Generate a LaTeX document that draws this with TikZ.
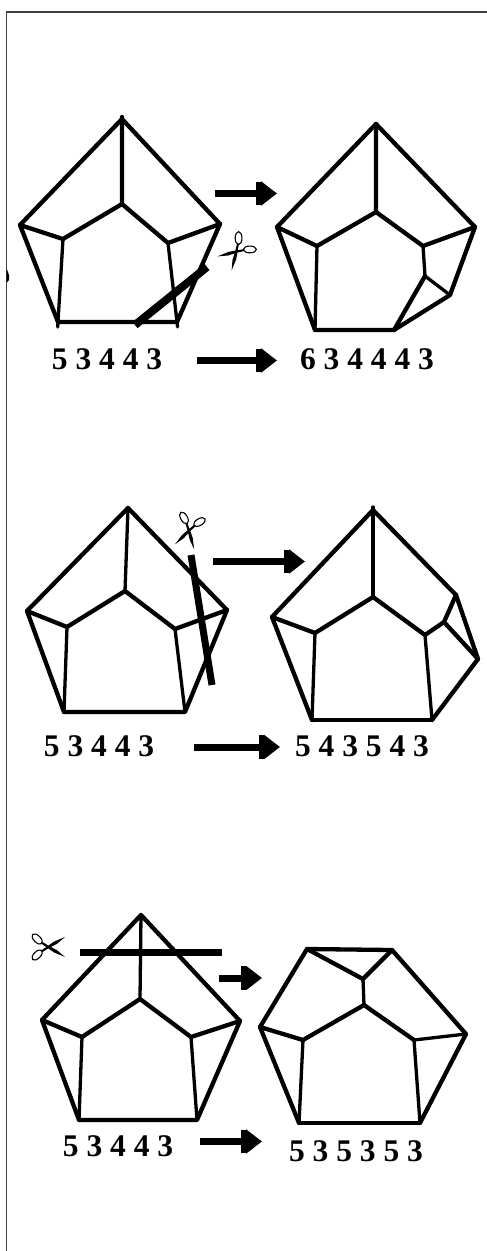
\documentclass[tikz,border=0pt]{standalone}
\usepackage{fontspec}
\setmainfont{Liberation Serif}
\usetikzlibrary{arrows.meta}
\tikzset{
    scissors/.pic={
        \fill (-5.2,-3.8) -- (-3.8,-5.2) -- (3,-1) -- (11,3.2) -- (19,10) -- (8,5.4) -- cycle;
        \fill (-5.2,3.8) -- (-3.8,5.2) -- (3,1) -- (11,-3.2) -- (19,-10) -- (8,-5.4) -- cycle;
        \draw[line width=1.1pt, shift={(-8.8,-8)}, rotate=-45] (0,0) ellipse [x radius=6.5, y radius=3.4];
        \draw[line width=1.1pt, shift={(-8.8,8)}, rotate=45] (0,0) ellipse [x radius=6.5, y radius=3.4];
    }
}
\begin{document}
\begin{tikzpicture}[
    x=1pt, y=-1pt,
    every node/.style={font=\fontsize{31.5}{34}\selectfont\bfseries, inner sep=0pt},
    edge/.style={line width=4.3pt, line cap=round, line join=round},
    thinedge/.style={line width=3.3pt, line cap=round},
    cut/.style={line width=7pt},
    arr/.style={-{Rectangle[length=5pt,width=23.5pt]Triangle[length=16pt,width=23.5pt]}, line width=7pt},
    frame/.style={line width=1.1pt, black!75}
]
\useasboundingbox (0,0) rectangle (487,1251);
\coordinate (fa) at (6.5,1251);
\coordinate (fb) at (6.5,12);
\coordinate (fc) at (487,12);
\draw[frame] (fa) -- (fb) -- (fc);
\fill (6.5,268) -- (9,275) -- (9,280) -- (6.5,283) -- cycle;
% first row
\coordinate (atop) at (122,119);
\coordinate (aleft) at (20,225);
\coordinate (aright) at (220,224);
\coordinate (ain) at (122,204);
\coordinate (ail) at (63,239);
\coordinate (air) at (168,243);
\coordinate (abl) at (58,322);
\coordinate (abr) at (177,322);
\draw[edge] (abl) -- (aleft) -- (atop) -- (aright) -- (abr) -- (abl);
\draw[edge, shorten <=-2pt] (atop) -- (ain) -- (ail) -- (aleft);
\draw[edge] (ain) -- (air) -- (aright);
\draw[thinedge, shorten >=-5pt] (ail) -- (abl);
\draw[thinedge, shorten >=-5pt] (air) -- (abr);
\coordinate (acuta) at (135,325);
\coordinate (acutb) at (207,267);
\draw[cut, line width=8pt] (acuta) -- (acutb);
\pic[rotate=225] (acis) at (238,250) {scissors};
\coordinate (btop) at (376,124);
\coordinate (bleft) at (277,227);
\coordinate (bright) at (475,227);
\coordinate (bin) at (376,212);
\coordinate (bil) at (317,246);
\coordinate (bir) at (423,246);
\coordinate (bna) at (425,276);
\coordinate (bnb) at (450,295);
\coordinate (bbl) at (315,330);
\coordinate (bbr) at (394,330);
\draw[edge] (bbl) -- (bleft) -- (btop) -- (bright) -- (bnb) -- (bbr) -- (bbl);
\draw[edge] (btop) -- (bin) -- (bil) -- (bleft);
\draw[edge] (bin) -- (bir) -- (bright);
\draw[thinedge] (bil) -- (bbl);
\draw[thinedge] (bir) -- (bna) -- (bnb);
\draw[edge] (bna) -- (bbr);
\coordinate (aas) at (215,193.5);
\coordinate (aae) at (277,193.5);
\draw[arr] (aas) -- (aae);
\coordinate (abs) at (197,360.5);
\coordinate (abe) at (277,360.5);
\draw[arr] (abs) -- (abe);
\node (alab) at (107,359) {5 3 4 4 3};
\node (blab) at (367,359) {6 3 4 4 4 3};
% second row
\coordinate (ctop) at (128,508);
\coordinate (cleft) at (27,611);
\coordinate (cright) at (227,610);
\coordinate (cin) at (125,591);
\coordinate (cil) at (67,627);
\coordinate (cir) at (175,629);
\coordinate (cbl) at (64,712);
\coordinate (cbr) at (185,712);
\draw[edge] (cbl) -- (cleft) -- (ctop) -- (cright) -- (cbr) -- (cbl);
\draw[edge] (cleft) -- (cil) -- (cin) -- (cir) -- (cright);
\draw[thinedge] (ctop) -- (cin);
\draw[thinedge] (cil) -- (cbl);
\draw[thinedge] (cir) -- (cbr);
\coordinate (ccuta) at (191,555);
\coordinate (ccutb) at (212,685);
\draw[cut] (ccuta) -- (ccutb);
\pic[rotate=-105] (ccis) at (189.5,528.5) {scissors};
\coordinate (dtop) at (373,510);
\coordinate (dleft) at (272,617);
\coordinate (din) at (373,597);
\coordinate (dil) at (315,633);
\coordinate (dir) at (425,635);
\coordinate (dna) at (444,622);
\coordinate (dnb) at (456,595);
\coordinate (dnc) at (478,659);
\coordinate (dbl) at (312,720);
\coordinate (dbr) at (432,720);
\draw[edge] (dbl) -- (dleft) -- (dtop) -- (dnb) -- (dnc) -- (dbr);
\draw[thinedge] (dbl) -- (dbr);
\draw[edge] (dleft) -- (dil) -- (din) -- (dir) -- (dna) -- (dnb);
\draw[edge] (dna) -- (dnc);
\draw[thinedge, shorten <=-3pt] (dtop) -- (din);
\draw[thinedge] (dil) -- (dbl);
\draw[thinedge] (dir) -- (dbr);
\coordinate (cas) at (213,561.5);
\coordinate (cae) at (305,561.5);
\draw[arr] (cas) -- (cae);
\coordinate (cbs) at (194,747);
\coordinate (cbe) at (280,747);
\draw[arr] (cbs) -- (cbe);
\node (clab) at (99,746) {5 3 4 4 3};
\node (dlab) at (362,746) {5 4 3 5 4 3};
% third row
\coordinate (etop) at (141,915);
\coordinate (eleft) at (42,1020);
\coordinate (eright) at (240,1021);
\coordinate (ein) at (140,999);
\coordinate (eil) at (82,1037);
\coordinate (eir) at (191,1037);
\coordinate (ebl) at (79,1120);
\coordinate (ebr) at (197,1120);
\draw[edge] (ebl) -- (eleft) -- (etop) -- (eright) -- (ebr) -- (ebl);
\draw[edge] (eleft) -- (eil) -- (ein) -- (eir) -- (eright);
\draw[thinedge] (etop) -- (ein);
\draw[thinedge] (eil) -- (ebl);
\draw[thinedge] (eir) -- (ebr);
\coordinate (ecuta) at (80,952);
\coordinate (ecutb) at (222,952);
\draw[cut] (ecuta) -- (ecutb);
\pic (ecis) at (46,947) {scissors};
\coordinate (ftl) at (307,949);
\coordinate (ftr) at (392,950);
\coordinate (fm) at (363,979);
\coordinate (fin) at (364,1005);
\coordinate (fleft) at (260,1027);
\coordinate (fil) at (303,1040);
\coordinate (fir) at (414,1040);
\coordinate (fright) at (466,1034);
\coordinate (fbl) at (299,1123);
\coordinate (fbr) at (420,1123);
\draw[edge] (fbl) -- (fleft) -- (ftl) -- (ftr) -- (fright) -- (fbr);
\draw[thinedge] (fbr) -- (fbl);
\draw[edge] (ftl) -- (fm) -- (ftr);
\draw[edge] (fleft) -- (fil) -- (fin) -- (fir);
\draw[thinedge] (fm) -- (fin);
\draw[thinedge] (fir) -- (fright);
\draw[thinedge] (fil) -- (fbl);
\draw[thinedge] (fir) -- (fbr);
\coordinate (eas) at (219,978);
\coordinate (eae) at (262,978);
\draw[arr] (eas) -- (eae);
\coordinate (ebs) at (200,1141.5);
\coordinate (ebe) at (262,1141.5);
\draw[arr] (ebs) -- (ebe);
\node (elab) at (118,1146) {5 3 4 4 3};
\node (flab) at (356,1151) {5 3 5 3 5 3};
\end{tikzpicture}
\end{document}
